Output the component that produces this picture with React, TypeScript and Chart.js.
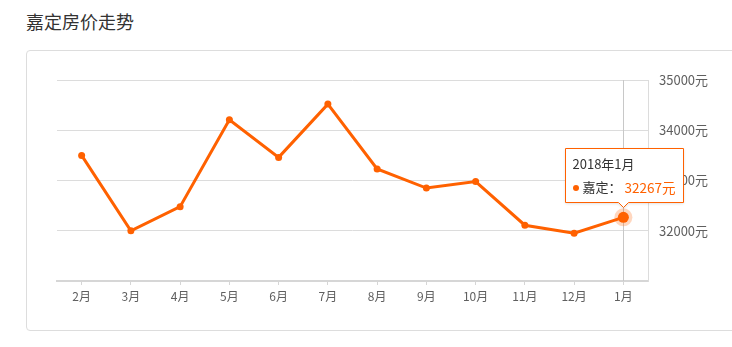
import React, { useEffect, useRef } from "react";
import { Chart, registerables } from "chart.js";

Chart.register(...registerables);

const TITLE = "嘉定房价走势";
const SERIES_NAME = "嘉定";
const MONTHS = ["2月", "3月", "4月", "5月", "6月", "7月", "8月", "9月", "10月", "11月", "12月", "1月"];
const PRICES = [33500, 32000, 32480, 34210, 33460, 34520, 33230, 32850, 32980, 32110, 31950, 32267];
const Y_MIN = 31000;
const Y_MAX = 35000;
const Y_STEP = 1000;
const ACTIVE_INDEX = 11;
const TOOLTIP_TITLE = "2018年1月";

const ORANGE = "#ff6100";
const FONT = '"Microsoft YaHei", "Noto Sans CJK SC", sans-serif';

const overlayPlugin = {
  id: "overlay",
  beforeDatasetsDraw(chart: any) {
    const ctx = chart.ctx;
    const area = chart.chartArea;
    const meta = chart.getDatasetMeta(0);
    const pt = meta.data[ACTIVE_INDEX];
    if (!pt) return;
    ctx.save();
    ctx.strokeStyle = "#c8c8c8";
    ctx.lineWidth = 1;
    ctx.beginPath();
    const x = Math.round(pt.x) + 0.5;
    ctx.moveTo(x, area.top);
    ctx.lineTo(x, area.bottom);
    ctx.stroke();
    ctx.restore();
  },
  afterDatasetsDraw(chart: any) {
    const ctx = chart.ctx;
    const meta = chart.getDatasetMeta(0);
    const pt = meta.data[ACTIVE_INDEX];
    if (!pt) return;
    const px = pt.x;
    const py = pt.y;
    ctx.save();
    ctx.fillStyle = "rgba(255,97,0,0.25)";
    ctx.beginPath();
    ctx.arc(px, py, 9, 0, Math.PI * 2);
    ctx.fill();
    ctx.fillStyle = ORANGE;
    ctx.beginPath();
    ctx.arc(px, py, 5.5, 0, Math.PI * 2);
    ctx.fill();

    const bx = Math.round(px - 58) + 0.5;
    const by = Math.round(py - 69) + 0.5;
    const bw = 118;
    const bh = 54;
    const ax = Math.round(px) + 0.5;
    ctx.shadowColor = "rgba(0,0,0,0.15)";
    ctx.shadowBlur = 3;
    ctx.shadowOffsetY = 1;
    ctx.fillStyle = "#ffffff";
    ctx.strokeStyle = ORANGE;
    ctx.lineWidth = 1;
    ctx.beginPath();
    ctx.moveTo(bx, by);
    ctx.lineTo(bx + bw, by);
    ctx.lineTo(bx + bw, by + bh);
    ctx.lineTo(ax + 5, by + bh);
    ctx.lineTo(ax, by + bh + 5);
    ctx.lineTo(ax - 5, by + bh);
    ctx.lineTo(bx, by + bh);
    ctx.closePath();
    ctx.fill();
    ctx.shadowColor = "transparent";
    ctx.stroke();

    ctx.textBaseline = "middle";
    ctx.textAlign = "left";
    ctx.font = `13px ${FONT}`;
    ctx.fillStyle = "#333333";
    ctx.fillText(TOOLTIP_TITLE, bx + 7, by + 16);
    ctx.fillStyle = ORANGE;
    ctx.beginPath();
    ctx.arc(bx + 10.5, by + 39.5, 3, 0, Math.PI * 2);
    ctx.fill();
    ctx.fillStyle = "#333333";
    ctx.fillText(SERIES_NAME + "：", bx + 17, by + 39);
    ctx.fillStyle = ORANGE;
    ctx.font = `13.5px ${FONT}`;
    ctx.fillText(PRICES[ACTIVE_INDEX] + "元", bx + 59, by + 39);
    ctx.restore();
  },
};

export default function App() {
  const ref = useRef<HTMLCanvasElement | null>(null);

  useEffect(() => {
    if (!ref.current) return;
    const chart = new Chart(ref.current, {
      type: "line",
      data: {
        labels: MONTHS,
        datasets: [
          {
            label: SERIES_NAME,
            data: PRICES,
            borderColor: ORANGE,
            backgroundColor: ORANGE,
            borderWidth: 3,
            tension: 0,
            pointRadius: 3.5,
            pointBorderWidth: 0,
            pointBackgroundColor: ORANGE,
            fill: false,
          },
        ],
      },
      plugins: [overlayPlugin],
      options: {
        responsive: false,
        animation: false,
        events: [],
        layout: { padding: { left: 57, top: 80, right: 0, bottom: 0 } },
        plugins: {
          legend: { display: false },
          tooltip: { enabled: false },
          title: { display: false },
        },
        scales: {
          x: {
            type: "category",
            offset: true,
            afterFit: (s: any) => {
              s.height = 66;
            },
            grid: {
              display: true,
              drawOnChartArea: false,
              drawTicks: true,
              tickLength: 4,
              offset: false,
              color: "#d6d6d6",
            },
            border: { display: true, color: "#d6d6d6", width: 2 },
            ticks: {
              color: "#5f5f5f",
              font: { size: 12, family: FONT },
              padding: 4,
              maxRotation: 0,
              autoSkip: false,
            },
          },
          y: {
            position: "right",
            min: Y_MIN,
            max: Y_MAX,
            afterFit: (s: any) => {
              s.width = 84;
            },
            grid: {
              color: (c: any) => (c.tick && c.tick.value === Y_MIN ? "rgba(0,0,0,0)" : "#dcdcdc"),
              drawTicks: false,
              lineWidth: 1,
            },
            border: { display: true, color: "#dcdcdc", width: 1 },
            ticks: {
              stepSize: Y_STEP,
              padding: 11,
              color: "#5f5f5f",
              font: { size: 13, family: FONT },
              callback: (v: any) => (v === Y_MIN ? "" : v + "元"),
            },
          },
        },
      },
    } as any);
    return () => chart.destroy();
  }, []);

  return (
    <div style={{ position: "absolute", left: 0, top: 0, width: 732, height: 347, overflow: "hidden", background: "#fff" }}>
      <div
        style={{
          position: "absolute",
          left: 26,
          top: 9,
          fontSize: 18,
          lineHeight: "24px",
          color: "#333",
          fontFamily: FONT,
        }}
      >
        {TITLE}
      </div>
      <div
        style={{
          position: "absolute",
          left: 26,
          top: 50,
          width: 720,
          height: 281,
          border: "1px solid #dddddd",
          borderRadius: 4,
          boxSizing: "border-box",
        }}
      />
      <canvas ref={ref} width={732} height={347} style={{ position: "absolute", left: 0, top: 0, width: 732, height: 347 }} />
    </div>
  );
}
